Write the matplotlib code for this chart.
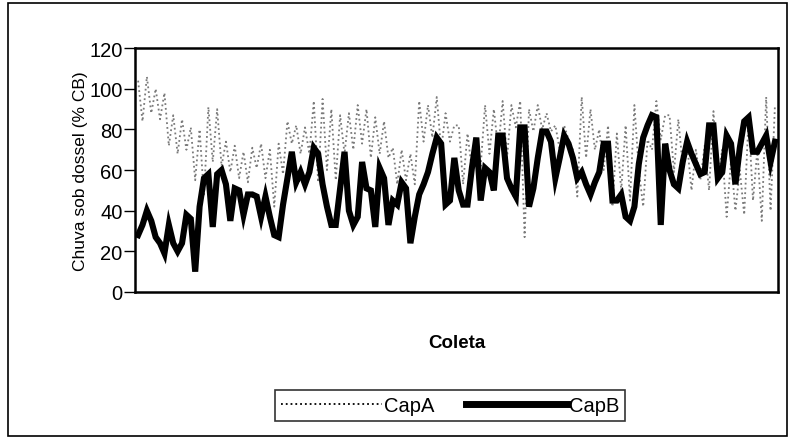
import matplotlib.pyplot as plt
import numpy as np
from matplotlib.patches import Rectangle
from matplotlib.lines import Line2D

plt.rcParams["font.family"] = ["Liberation Sans", "DejaVu Sans"]

# CapB (thick black), one per coleta
capb = [28, 33, 40, 35, 27, 24, 19, 33, 24, 20, 24, 38, 36, 10, 42, 56, 58, 32, 58, 60, 53, 35, 51, 50, 38, 48,
        48, 47, 37, 47, 37, 28, 27, 43, 56, 69, 54, 59, 53, 59, 71, 68, 53, 42, 33, 33, 51, 69, 40, 33,
        37, 64, 51, 50, 32, 61, 56, 33, 45, 43, 54, 51, 24, 37, 48, 53, 59, 68, 76, 73, 43, 45, 66,
        50, 43, 43, 61, 76, 45, 61, 59, 50, 77, 77, 56, 51, 47, 81, 81, 42, 51, 66, 79, 79, 74, 56, 66,
        77, 73, 66, 56, 59, 53, 48, 54, 59, 73, 73, 45, 45, 48, 37, 35, 42, 63, 76, 82, 87, 86, 33, 73,
        60, 53, 51, 64, 74, 68, 63, 58, 59, 82, 82, 56, 59, 77, 73, 53, 71, 84, 86, 69, 69, 73, 77, 64, 74]

# CapA (dotted grey)
capa = [104, 84, 106, 88, 100, 85, 98, 72, 87, 68, 85, 70, 81, 55, 80, 47, 91, 64, 90, 62, 74, 59, 72, 56, 69, 54,
        71, 61, 73, 56, 70, 42, 73, 58, 84, 73, 82, 68, 81, 68, 94, 54, 95, 60, 90, 55, 87, 68, 88, 70,
        92, 73, 90, 66, 86, 68, 84, 66, 71, 53, 70, 55, 68, 53, 94, 74, 92, 76, 96, 70, 88, 74, 82,
        82, 53, 78, 60, 70, 62, 92, 68, 90, 70, 94, 66, 92, 81, 94, 27, 90, 79, 92, 80, 88, 79, 82, 70,
        82, 75, 70, 47, 96, 66, 90, 70, 80, 60, 82, 42, 78, 50, 82, 45, 92, 60, 42, 75, 70, 94, 75, 87,
        87, 59, 85, 62, 73, 50, 70, 55, 72, 50, 89, 56, 70, 37, 65, 40, 60, 38, 86, 45, 70, 35, 96, 40, 92]

yticks = [0, 20, 40, 60, 80, 100, 120]

coleta = np.arange(1, len(capb) + 1)

fig = plt.figure(figsize=(7.91, 4.39), dpi=100)
ax = fig.add_axes([0.1707, 0.3326, 0.8129, 0.5554])

ax.plot(coleta, capa, color='#7a7a7a', linewidth=1.3, linestyle=':', label='CapA')
ax.plot(coleta, capb, color='k', linewidth=4.4, solid_joinstyle='miter', label='CapB')

ax.set_xlim(0.3, len(capb) + 0.7)
ax.set_ylim(0, 120)
ax.set_yticks(yticks)
ax.set_xticks([])
ax.tick_params(axis='y', direction='out', length=8, width=1, labelsize=14.5, pad=1)
for s in ax.spines.values():
    s.set_linewidth(1.8)

ax.set_ylabel('Chuva sob dossel (% CB)', fontsize=12.5, labelpad=1)
ax.set_xlabel('Coleta', fontsize=13.5, fontweight='bold', labelpad=30)

handles = [Line2D([], [], color='k', linewidth=1.3, linestyle=':'),
           Line2D([], [], color='k', linewidth=5)]
lgd = fig.legend(handles, ['CapA', 'CapB'], loc='center', bbox_to_anchor=(0.569, 0.075),
                 ncol=2, fontsize=14.5, frameon=True, fancybox=False, edgecolor='k',
                 handlelength=5.0, handletextpad=0.1, columnspacing=1.6, borderpad=0.3,
                 borderaxespad=0.5)
lgd.get_frame().set_linewidth(1.2)

# outer frame of the figure
fig.patches.append(Rectangle((0.01, 0.005), 0.985, 0.985, transform=fig.transFigure,
                             fill=False, edgecolor='k', linewidth=1.2))

fig.savefig('out.png', dpi=100)
